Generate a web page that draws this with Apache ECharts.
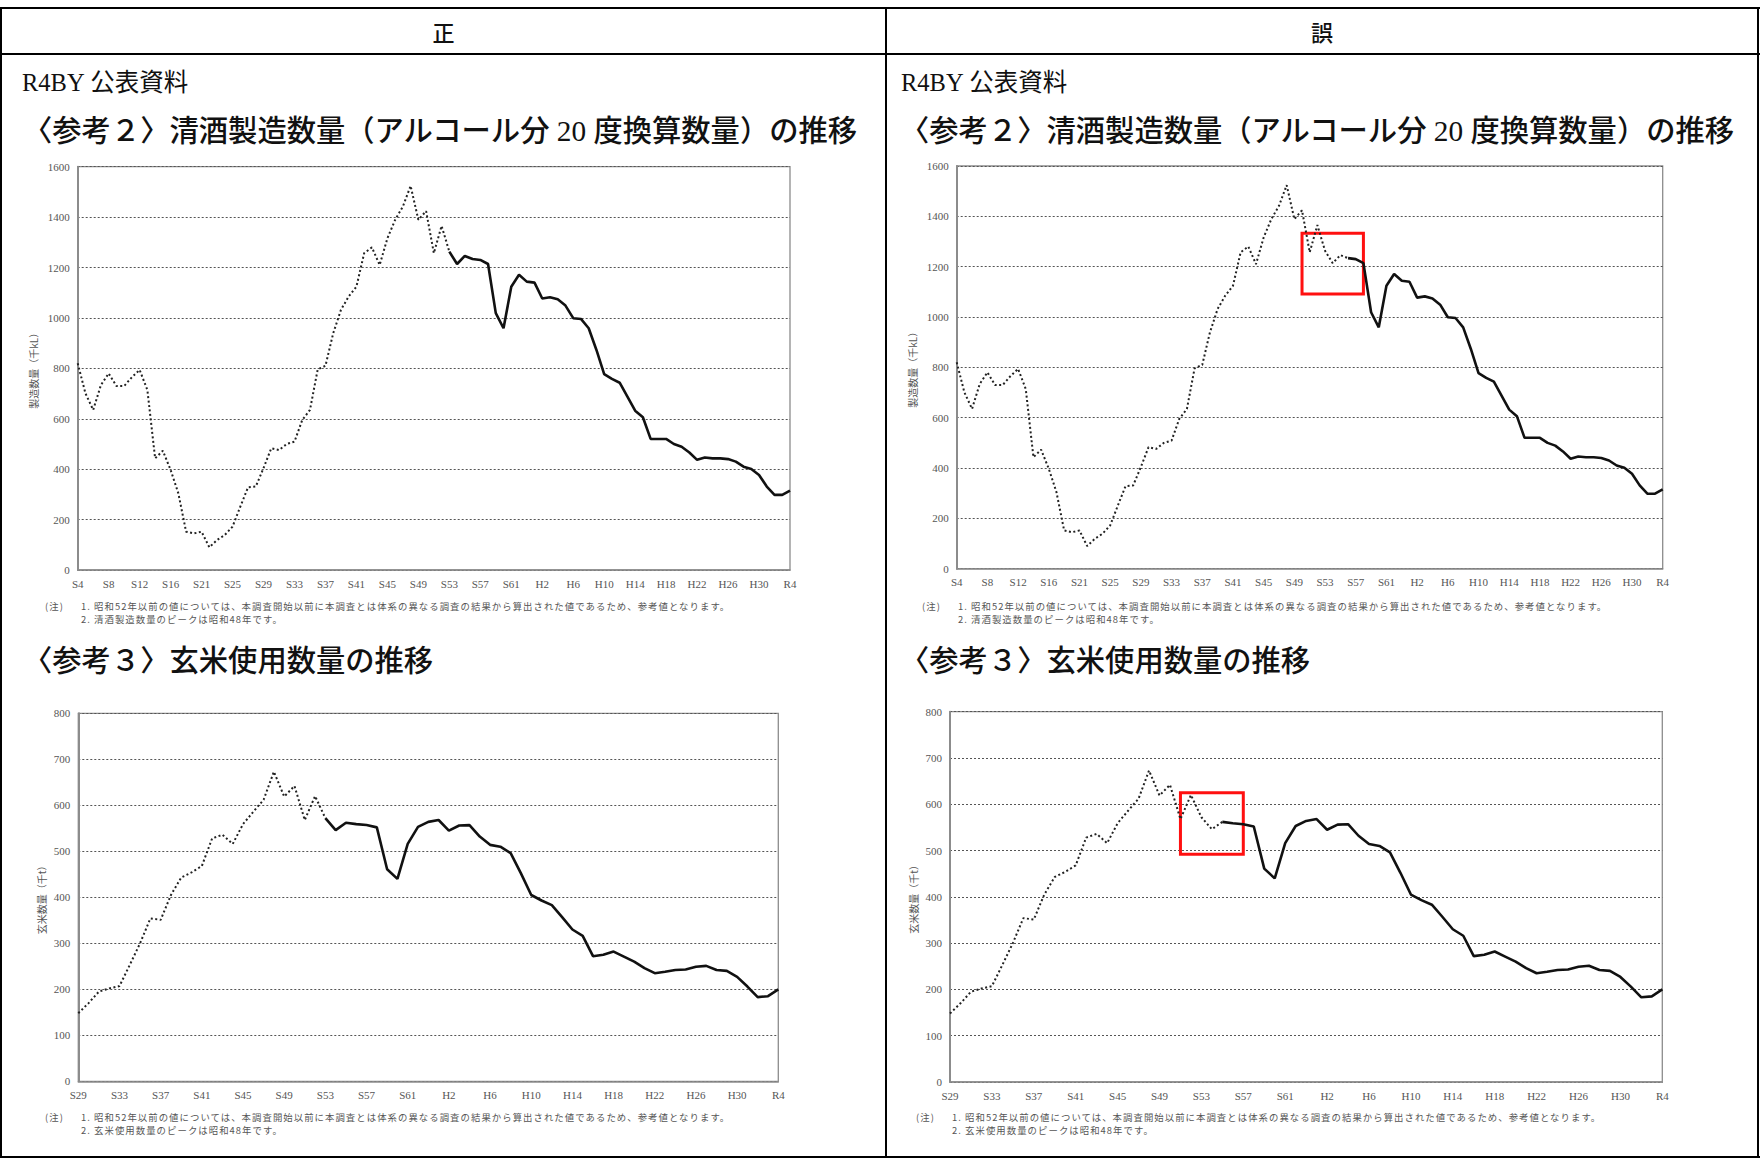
<!DOCTYPE html>
<html><head><meta charset="utf-8">
<script src="https://cdn.jsdelivr.net/npm/echarts@6/dist/echarts.min.js"></script>
<style>
html,body{margin:0;padding:0;background:#fff;}
#page{position:relative;width:1760px;height:1158px;overflow:hidden;font-family:"Noto Sans CJK JP",sans-serif;color:#111;}
#chart{position:absolute;left:0;top:0;width:1760px;height:1158px;}
.ln{position:absolute;background:#000;}
.t{position:absolute;white-space:nowrap;}
.hd{font-size:22px;line-height:22px;text-align:center;top:20px;font-weight:500;}
.r4{font-size:24.5px;line-height:26px;}
.ti{font-size:29.3px;line-height:30px;font-weight:500;}
.sf{font-family:"Liberation Serif",serif;}
.nt{font-size:9.4px;line-height:14px;letter-spacing:1.05px;color:#555;}
</style></head><body>
<div id="page">
<div id="chart"></div>
<div class="ln" style="left:0;top:7px;width:1760px;height:2px"></div>
<div class="ln" style="left:0;top:53px;width:1760px;height:2px"></div>
<div class="ln" style="left:0;top:1156px;width:1760px;height:2px"></div>
<div class="ln" style="left:0;top:7px;width:2px;height:1151px"></div>
<div class="ln" style="left:1757px;top:7px;width:2px;height:1151px"></div>
<div class="ln" style="left:885px;top:7px;width:2px;height:1151px"></div>

<div class="t hd" style="left:2px;width:883px">正</div>
<div class="t hd" style="left:887px;width:870px">誤</div>

<div class="t r4" style="left:22px;top:68px"><span class="sf">R4BY</span> 公表資料</div>
<div class="t r4" style="left:901px;top:68px"><span class="sf">R4BY</span> 公表資料</div>

<div class="t ti" style="left:23px;top:113px">〈参考２〉清酒製造数量（アルコール分<span class="sf" style="font-weight:400"> 20 </span>度換算数量）の推移</div>
<div class="t ti" style="left:900px;top:113px">〈参考２〉清酒製造数量（アルコール分<span class="sf" style="font-weight:400"> 20 </span>度換算数量）の推移</div>

<div class="t ti" style="left:23px;top:643px">〈参考３〉玄米使用数量の推移</div>
<div class="t ti" style="left:900px;top:643px">〈参考３〉玄米使用数量の推移</div>

<div class="t nt" style="left:45px;top:598.5px">(注)</div>
<div class="t nt" style="left:81px;top:598.5px">1.&nbsp;昭和52年以前の値については、本調査開始以前に本調査とは体系の異なる調査の結果から算出された値であるため、参考値となります。</div>
<div class="t nt" style="left:81px;top:612.3px">2.&nbsp;清酒製造数量のピークは昭和48年です。</div>
<div class="t nt" style="left:922px;top:598.5px">(注)</div>
<div class="t nt" style="left:958px;top:598.5px">1.&nbsp;昭和52年以前の値については、本調査開始以前に本調査とは体系の異なる調査の結果から算出された値であるため、参考値となります。</div>
<div class="t nt" style="left:958px;top:612.3px">2.&nbsp;清酒製造数量のピークは昭和48年です。</div>

<div class="t nt" style="left:45px;top:1109.5px">(注)</div>
<div class="t nt" style="left:81px;top:1109.5px">1.&nbsp;昭和52年以前の値については、本調査開始以前に本調査とは体系の異なる調査の結果から算出された値であるため、参考値となります。</div>
<div class="t nt" style="left:81px;top:1123.3px">2.&nbsp;玄米使用数量のピークは昭和48年です。</div>
<div class="t nt" style="left:916px;top:1109.5px">(注)</div>
<div class="t nt" style="left:952px;top:1109.5px">1.&nbsp;昭和52年以前の値については、本調査開始以前に本調査とは体系の異なる調査の結果から算出された値であるため、参考値となります。</div>
<div class="t nt" style="left:952px;top:1123.3px">2.&nbsp;玄米使用数量のピークは昭和48年です。</div>
</div>
<script>
// ---- data ----
const sakeYears = ["S4","S5","S6","S7","S8","S9","S10","S11","S12","S13","S14","S15","S16","S17","S18","S19",
 "S21","S22","S23","S24","S25","S26","S27","S28","S29","S30","S31","S32","S33","S34","S35","S36","S37","S38","S39","S40",
 "S41","S42","S43","S44","S45","S46","S47","S48","S49","S50","S51","S52","S53","S54","S55","S56","S57","S58","S59","S60",
 "S61","S62","S63","H1","H2","H3","H4","H5","H6","H7","H8","H9","H10","H11","H12","H13","H14","H15","H16","H17","H18",
 "H19","H20","H21","H22","H23","H24","H25","H26","H27","H28","H29","H30","R1","R2","R3","R4"];
const sakeValues = [820,701,635,734,780,730,730,765,794,714,443,473,397,304,152,145,
 152,90,119,139,172,251,328,331,404,483,476,500,509,595,635,796,810,939,1032,1085,
 1124,1257,1280,1210,1316,1389,1442,1524,1389,1424,1257,1365,1263,1214,1246,1234,1230,1214,1019,959,
 1124,1171,1144,1140,1077,1082,1074,1049,999,996,959,873,777,758,743,688,632,606,520,520,520,
 500,489,466,437,446,443,443,440,430,410,401,377,331,298,298,315];
const riceYears = ["S29","S30","S31","S32","S33","S34","S35","S36","S37","S38","S39","S40","S41","S42","S43","S44",
 "S45","S46","S47","S48","S49","S50","S51","S52","S53","S54","S55","S56","S57","S58","S59","S60","S61","S62","S63",
 "H1","H2","H3","H4","H5","H6","H7","H8","H9","H10","H11","H12","H13","H14","H15","H16","H17","H18","H19","H20",
 "H21","H22","H23","H24","H25","H26","H27","H28","H29","H30","R1","R2","R3","R4"];
const riceValues = [148,170,195,202,207,253,300,354,351,405,443,454,468,528,536,516,
 559,586,612,673,619,642,568,620,572,546,562,559,557,552,461,440,516,553,564,
 568,545,556,557,532,514,510,496,452,405,393,383,357,330,316,272,275,282,271,260,
 246,235,238,242,243,249,251,242,240,227,206,183,185,200];
// index where the solid (本調査) line begins
const sakeSolidFromCorrect = 48;   // S53
const sakeSolidFromWrong = 51;     // S56
const riceSolidFromCorrect = 24;   // S53
const riceSolidFromWrong = 26;     // S55
const sakeTicks = {min:0, max:1600, interval:200};
const riceTicks = {min:0, max:800, interval:100};
// highlighted (red box) regions in the 誤 charts: [x index from, x index to, value low, value high]
const sakeErrorBox = [45.0, 52.8, 1091, 1333];
const riceErrorBox = [21.8, 28.4, 492, 625];

const grids=[], xAxes=[], yAxes=[], series=[];
function addChart(g, cats, vals, solidFrom, ticks, yName, nameGap, box){
  const gi = grids.length;
  grids.push({left:g.l, top:g.t, width:g.w, height:g.h, show:true, borderColor:'#8c8c8c', borderWidth:1.3, backgroundColor:'transparent'});
  xAxes.push({type:'category', gridIndex:gi, data:cats, boundaryGap:false,
    axisLine:{show:true, lineStyle:{color:'#8c8c8c', width:1.5}}, axisTick:{show:false},
    axisLabel:{interval:3, color:'#555', fontFamily:'Liberation Serif', fontSize:11, margin:8},
    splitLine:{show:false}});
  yAxes.push({type:'value', gridIndex:gi, min:ticks.min, max:ticks.max, interval:ticks.interval,
    name:yName, nameLocation:'middle', nameGap:nameGap, nameRotate:90,
    nameTextStyle:{color:'#555', fontSize:10, fontFamily:'Noto Sans CJK JP'},
    axisLine:{show:true, lineStyle:{color:'#8c8c8c', width:2}}, axisTick:{show:false},
    axisLabel:{color:'#555', fontFamily:'Liberation Serif', fontSize:11, margin:8, formatter:(v)=>String(v)},
    splitLine:{show:true, lineStyle:{color:'#555', width:1, type:[2,2]}}});
  series.push({type:'line', xAxisIndex:gi, yAxisIndex:gi, symbol:'none', silent:true,
    data: vals.map((v,i)=> i<=solidFrom ? v : '-'),
    lineStyle:{color:'#222', width:2, type:[2,2.5]}});
  const solid = {type:'line', xAxisIndex:gi, yAxisIndex:gi, symbol:'none', silent:true,
    data: vals.map((v,i)=> i>=solidFrom ? v : '-'),
    lineStyle:{color:'#111', width:2.6, type:'solid'}};
  if (box) {
    solid.markArea = {silent:true, label:{show:false},
      itemStyle:{color:'rgba(0,0,0,0)', borderColor:'#ff1010', borderWidth:3},
      data:[[{coord:[box[0], box[3]]},{coord:[box[1], box[2]]}]]};
  }
  series.push(solid);
}
addChart({l:77.7,t:166.7,w:712.3,h:403.3}, sakeYears, sakeValues, sakeSolidFromCorrect, sakeTicks, '製造数量（千kL）', 39, null);
addChart({l:956.7,t:166,w:706,h:402.7}, sakeYears, sakeValues, sakeSolidFromWrong, sakeTicks, '製造数量（千kL）', 39, sakeErrorBox);
addChart({l:78.3,t:713.3,w:700,h:368}, riceYears, riceValues, riceSolidFromCorrect, riceTicks, '玄米数量（千t）', 32, null);
addChart({l:950,t:711.7,w:712.3,h:370.3}, riceYears, riceValues, riceSolidFromWrong, riceTicks, '玄米数量（千t）', 32, riceErrorBox);

const chart = echarts.init(document.getElementById('chart'), null, {renderer:'svg'});
chart.setOption({animation:false, grid:grids, xAxis:xAxes, yAxis:yAxes, series:series});
</script>
</body></html>
